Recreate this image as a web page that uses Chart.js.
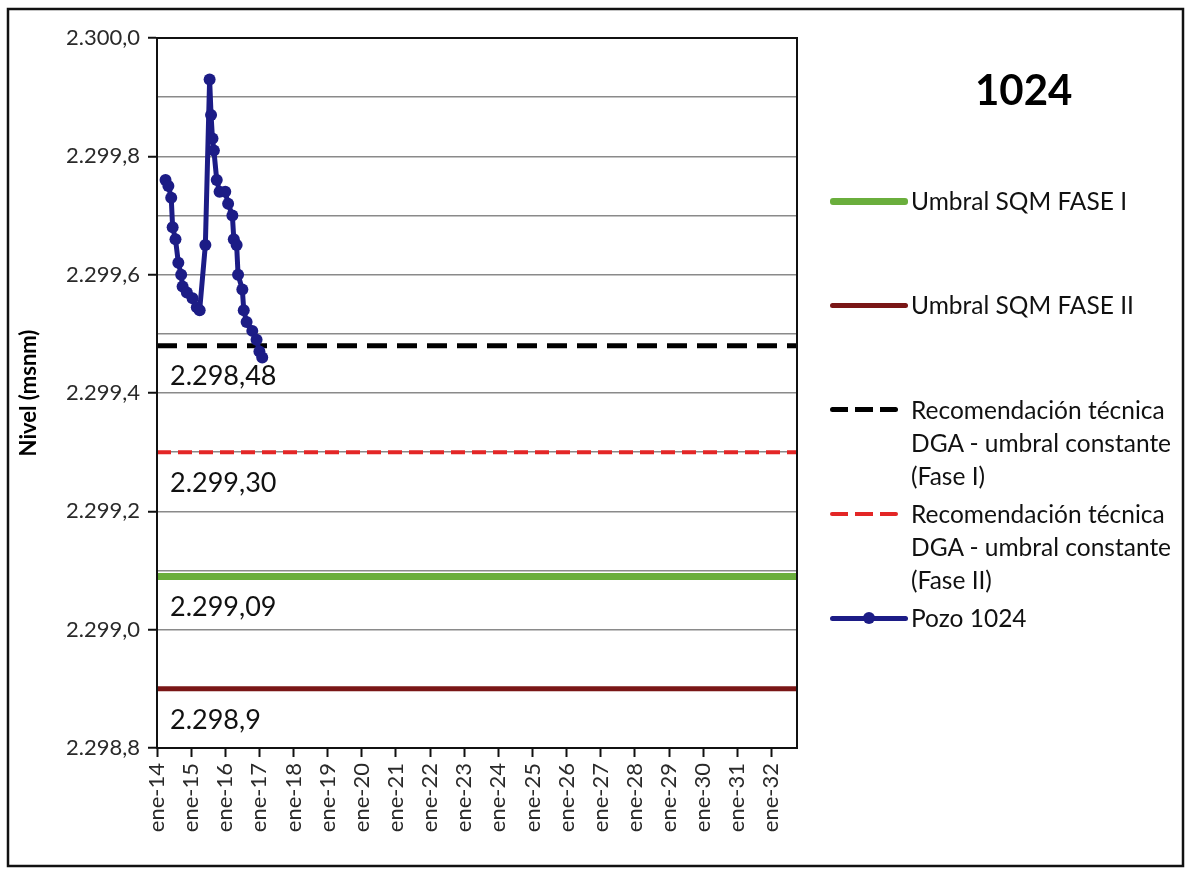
<!DOCTYPE html>
<html>
<head>
<meta charset="utf-8">
<script src="https://cdn.jsdelivr.net/npm/chart.js@4/dist/chart.umd.min.js"></script>
<style>
  html, body { margin: 0; padding: 0; background: #fff; }
  #wrap { position: relative; width: 1190px; height: 875px; }
  #legend { position: absolute; left: 0; top: 0; font-family: Lato, "Open Sans", sans-serif; color: #111; }
  .item { position: absolute; left: 830px; display: flex; align-items: flex-start; }
  .sample { position: relative; width: 78px; height: 34px; flex: none; }
  .sample span { position: absolute; left: 0; right: 0; top: 50%; border-radius: 3px; }
  .sample i { position: absolute; left: 50%; top: 50%; width: 12px; height: 12px; margin: -6px 0 0 -6px; border-radius: 50%; }
  .txt { font-size: 24.5px; line-height: 33px; width: 290px; padding-left: 3px; }
  #title { position: absolute; left: 975px; top: 64px; font: bold 42px Lato, sans-serif; color: #000; }
</style>
</head>
<body>
<div id="wrap">
  <canvas id="nivel" width="1190" height="875"></canvas>
  <div id="title">1024</div>
  <div id="legend"></div>
</div>
<script>
// data (x = months since ene-2014)
var pozoMonths = [3, 4, 5, 5.5, 6.5, 7.5, 8.5, 9, 10.5, 12.5, 14, 15, 17, 18.5, 19, 19.5, 20, 21, 22, 24,
                  25, 26.5, 27, 28, 28.5, 30, 30.5, 31.5, 33.5, 35, 36, 37];
var pozoLevels = [2299.76, 2299.75, 2299.73, 2299.68, 2299.66, 2299.62, 2299.60, 2299.58, 2299.57, 2299.56,
                  2299.545, 2299.54, 2299.65, 2299.93, 2299.87, 2299.83, 2299.81, 2299.76, 2299.74, 2299.74,
                  2299.72, 2299.70, 2299.66, 2299.65, 2299.60, 2299.575, 2299.54, 2299.52, 2299.505, 2299.49,
                  2299.47, 2299.46];
var spanMonths = [0, 225];
var sqmFase1 = 2299.09;
var sqmFase2 = 2298.90;
var dgaFase1 = 2299.48;
var dgaFase2 = 2299.30;
var lineLabels = ["2.299,09", "2.298,9", "2.298,48", "2.299,30"];
var seriesNames = ["Umbral SQM FASE I", "Umbral SQM FASE II",
                   "Recomendación técnica DGA - umbral constante (Fase I)",
                   "Recomendación técnica DGA - umbral constante (Fase II)",
                   "Pozo 1024"];
var yMin = 2298.8, yMax = 2300.0;
var firstYear = 14, lastYear = 32;

function flat(v) {
  return spanMonths.map(function(m) { return { x: m, y: v }; });
}
function fmtNivel(v) {
  var s = v.toFixed(1).split(".");
  var ent = s[0].replace(/\B(?=(\d{3})+(?!\d))/g, ".");
  return ent + "," + s[1];
}

var pozo = pozoMonths.map(function(m, i) { return { x: m, y: pozoLevels[i] }; });

// data labels under the start of each threshold line
var lineLabelPlugin = {
  id: 'lineLabels',
  afterDatasetsDraw: function(chart) {
    var ctx = chart.ctx;
    ctx.save();
    ctx.font = '27px Lato, sans-serif';
    ctx.fillStyle = '#111';
    ctx.textBaseline = 'middle';
    for (var i = 0; i < 4; i++) {
      var p = chart.getDatasetMeta(i).data[0];
      ctx.fillText(lineLabels[i], p.x + 13, p.y + 31);
    }
    ctx.restore();
  }
};

// box around plot + outer chart frame
var framePlugin = {
  id: 'frames',
  afterDraw: function(chart) {
    var ctx = chart.ctx, a = chart.chartArea;
    ctx.save();
    ctx.strokeStyle = '#111';
    ctx.lineWidth = 2;
    ctx.strokeRect(a.left, a.top, a.right - a.left, a.bottom - a.top);
    ctx.lineWidth = 2.5;
    ctx.strokeRect(8, 9, 1175, 857);
    ctx.restore();
  }
};

var colors = ['#6aae3c', '#7a1616', '#000000', '#e32626', '#1c1c86'];

var chartEl = document.getElementById("nivel");
var nivelChart = new Chart(chartEl, {
  type: 'line',
  data: {
    datasets: [{
      label: seriesNames[0], data: flat(sqmFase1),
      borderColor: colors[0], borderWidth: 7, pointRadius: 0, order: 1
    }, {
      label: seriesNames[1], data: flat(sqmFase2),
      borderColor: colors[1], borderWidth: 5, pointRadius: 0, order: 1
    }, {
      label: seriesNames[2], data: flat(dgaFase1),
      borderColor: colors[2], borderWidth: 5, borderDash: [20, 10], pointRadius: 0, order: 1
    }, {
      label: seriesNames[3], data: flat(dgaFase2),
      borderColor: colors[3], borderWidth: 4, borderDash: [14, 7], pointRadius: 0, order: 1
    }, {
      label: seriesNames[4], data: pozo,
      borderColor: colors[4], backgroundColor: colors[4], borderWidth: 5,
      pointRadius: 6, pointBorderWidth: 0, lineTension: 0, order: 0
    }]
  },
  options: {
    responsive: false,
    animation: false,
    events: [],
    layout: { padding: { left: 0, top: 38, right: 393, bottom: 0 } },
    plugins: {
      legend: { display: false },
      tooltip: { enabled: false }
    },
    scales: {
      x: {
        type: 'linear',
        min: spanMonths[0], max: spanMonths[1],
        afterFit: function(s) { s.height = 127; },
        afterBuildTicks: function(s) {
          var t = [];
          for (var y = firstYear; y <= lastYear; y++) t.push({ value: (y - firstYear) * 12 });
          s.ticks = t;
        },
        border: { color: '#111', width: 2 },
        grid: { drawOnChartArea: false, tickLength: 9, tickColor: '#111', tickWidth: 2 },
        ticks: {
          minRotation: 90, maxRotation: 90, padding: 6,
          color: '#2a2a2a', font: { family: 'Lato', size: 22 },
          callback: function(v) { return 'ene-' + (firstYear + Math.round(v / 12)); }
        }
      },
      y: {
        min: yMin, max: yMax,
        afterFit: function(s) { s.width = 157; },
        border: { color: '#111', width: 2 },
        grid: {
          color: '#8a8a8a', lineWidth: 1.5, tickLength: 9, tickWidth: 2,
          tickColor: function(c) {
            return Math.round(c.tick.value * 10) % 2 === 0 ? '#111' : 'rgba(0,0,0,0)';
          }
        },
        ticks: {
          stepSize: 0.1, padding: 8,
          color: '#2a2a2a', font: { family: 'Lato', size: 22 },
          callback: function(v) {
            return Math.round(v * 10) % 2 === 0 ? fmtNivel(v) : '';
          }
        },
        title: {
          display: true, text: 'Nivel (msnm)', color: '#000',
          font: { family: 'Lato', size: 22, weight: 'bold' }, padding: { top: 16, bottom: 0 }
        }
      }
    }
  },
  plugins: [lineLabelPlugin, framePlugin]
});

// html legend with the same order as the original
var legendEl = document.getElementById('legend');
nivelChart.data.datasets.forEach(function(ds, i) {
  var item = document.createElement('div');
  item.className = 'item';
  item.style.top = (201 + i * 104.3 - 17) + 'px';
  var sample = document.createElement('div');
  sample.className = 'sample';
  var ln = document.createElement('span');
  ln.style.height = ds.borderWidth + 'px';
  ln.style.marginTop = (-ds.borderWidth / 2) + 'px';
  if (ds.borderDash) {
    ln.style.right = '10px';
    ln.style.background = 'repeating-linear-gradient(to right,' + ds.borderColor + ' 0 18px, transparent 18px 25px)';
  } else {
    ln.style.background = ds.borderColor;
  }
  sample.appendChild(ln);
  if (ds.pointRadius) {
    var dot = document.createElement('i');
    dot.style.background = ds.borderColor;
    sample.appendChild(dot);
  }
  var txt = document.createElement('div');
  txt.className = 'txt';
  txt.textContent = ds.label;
  item.appendChild(sample);
  item.appendChild(txt);
  legendEl.appendChild(item);
});
</script>
</body>
</html>
